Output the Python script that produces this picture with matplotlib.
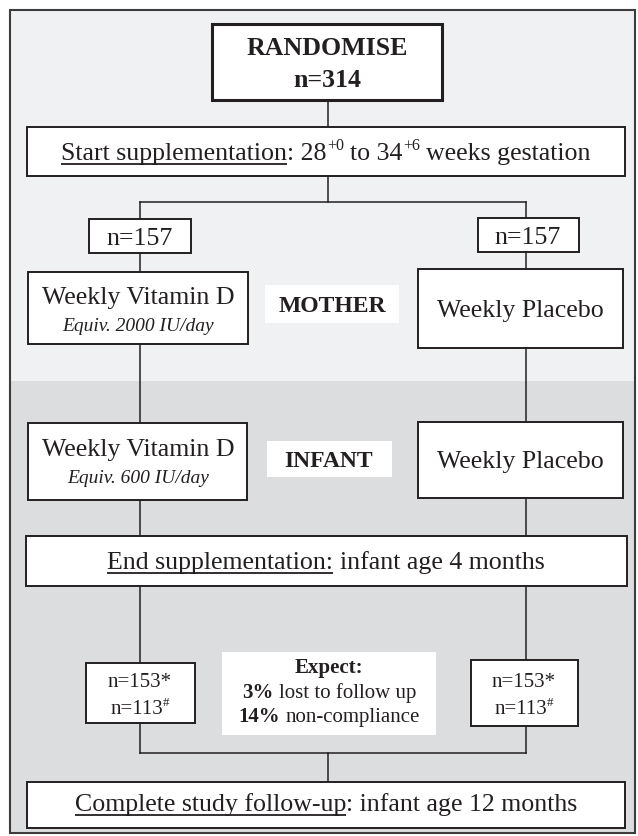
import matplotlib.pyplot as plt
from matplotlib.patches import Rectangle

plt.rcParams['font.family'] = ['Liberation Serif', 'DejaVu Serif']

# trial numbers
total_n = 314
arm_n = [157, 157]
followup_n = [153, 153]
compliant_n = [113, 113]
lost_pct = 3
noncomp_pct = 14
start_wk = ["28", "+0", "34", "+6"]
end_age = 4
final_age = 12
arms = ["Weekly Vitamin D", "Weekly Placebo"]
doses = ["Equiv. 2000 IU/day", "Equiv. 600 IU/day"]
phases = ["MOTHER", "INFANT"]

INK = '#231f20'
fig = plt.figure(figsize=(6.38, 8.36), dpi=100)
ax = fig.add_axes([0, 0, 1, 1])
ax.set_xlim(0, 638)
ax.set_ylim(836, 0)
ax.axis('off')
r = fig.canvas.get_renderer()


def adv(s, **kw):
    # advance width of s in pixels (sentinel trick keeps spaces)
    t = ax.text(0, 0, '|' + s + '|', **kw)
    w = t.get_window_extent(r).width
    t.remove()
    t = ax.text(0, 0, '||', **kw)
    w -= t.get_window_extent(r).width
    t.remove()
    return w


def line(cx, y, runs, size=18.6):
    parts = []
    for s, f in runs:
        kw = dict(fontsize=size * 0.62 if 's' in f else size,
                  fontweight='bold' if 'b' in f else 'normal',
                  fontstyle='italic' if 'i' in f else 'normal', color=INK)
        sp = adv(' ', **kw)
        core = s.strip(' ')
        lead = len(s) - len(s.lstrip(' '))
        trail = len(s) - len(s.rstrip(' '))
        parts.append((core, f, kw, lead * sp, adv(core, **kw), trail * sp))
    x = cx - sum(p[3] + p[4] + p[5] for p in parts) / 2
    for core, f, kw, lead, w, trail in parts:
        x += lead
        yy = y - size * 1.389 * 0.4 if 's' in f else y
        ax.text(x, yy, core, ha='left', va='baseline', zorder=4, **kw)
        if 'u' in f:
            ax.plot([x, x + w], [y + 4, y + 4], color=INK, lw=1.3, solid_capstyle='butt', zorder=4)
        x += w + trail


def box(x0, y0, x1, y1, lw=1.4, edge=True):
    ax.add_patch(Rectangle((x0, y0), x1 - x0, y1 - y0, fc='white',
                           ec=INK if edge else 'none', lw=lw, zorder=3))


def seg(xs, ys):
    ax.plot(xs, ys, color=INK, lw=1.1, zorder=2)


# background bands + frame
ax.add_patch(Rectangle((10, 10), 625, 371, fc='#f0f1f3', ec='none', zorder=0))
ax.add_patch(Rectangle((10, 381), 625, 452, fc='#dcdddf', ec='none', zorder=0))
ax.add_patch(Rectangle((10, 10), 625, 823, fc='none', ec='#3c3c3c', lw=1.5, zorder=1))

# connectors
lx, rx = 140, 526
seg([328, 328], [100, 202])
seg([lx, rx], [202, 202])
seg([lx, lx], [202, 753])
seg([rx, rx], [202, 753])
seg([lx, rx], [753, 753])
seg([328, 328], [753, 782])

# top
box(212, 24, 442, 100, lw=2.2)
line(327, 55, [("RANDOMISE", 'b')])
line(327, 87, [(f"n={total_n}", 'b')])

box(27, 127, 625, 176)
line(326, 160, [("Start supplementation", 'u'), (f": {start_wk[0]}", ''), (start_wk[1], 's'),
                (f" to {start_wk[2]}", ''), (start_wk[3], 's'), (" weeks gestation", '')])

# randomised arms
box(89, 219, 191, 253)
line(140, 245, [(f"n={arm_n[0]}", '')])
box(478, 218, 579, 252)
line(528, 244, [(f"n={arm_n[1]}", '')])

# mother phase
box(28, 272, 248, 344)
line(138, 304, [(arms[0], '')])
line(138, 331, [(doses[0], 'i')], size=14)
box(418, 269, 623, 348)
line(520, 317, [(arms[1], '')])
box(265, 285, 399, 323, edge=False)
line(332, 312, [(phases[0], 'b')], size=17)

# infant phase
box(28, 423, 247, 500)
line(138, 456, [(arms[0], '')])
line(138, 483, [(doses[1], 'i')], size=14)
box(418, 422, 623, 498)
line(520, 468, [(arms[1], '')])
box(267, 441, 392, 477, edge=False)
line(329, 467, [(phases[1], 'b')], size=17)

box(26, 536, 627, 586)
line(326, 569, [("End supplementation:", 'u'), (f" infant age {end_age} months", '')])

# follow-up numbers
box(86, 663, 195, 723)
line(140, 687, [(f"n={followup_n[0]}*", '')], size=15)
line(140, 714, [(f"n={compliant_n[0]}", ''), ("#", 's')], size=15)
box(471, 660, 578, 726)
line(524, 687, [(f"n={followup_n[1]}*", '')], size=15)
line(524, 714, [(f"n={compliant_n[1]}", ''), ("#", 's')], size=15)

box(222, 652, 436, 735, edge=False)
line(329, 673, [("Expect:", 'b')], size=15)
line(329, 698, [(f"{lost_pct}%", 'b'), (" lost to follow up", '')], size=15)
line(329, 722, [(f"{noncomp_pct}%", 'b'), (" non-compliance", '')], size=15)

box(27, 782, 625, 828)
line(326, 811, [("Complete study follow-up", 'u'), (f": infant age {final_age} months", '')])

fig.savefig("out.png", dpi=100)
